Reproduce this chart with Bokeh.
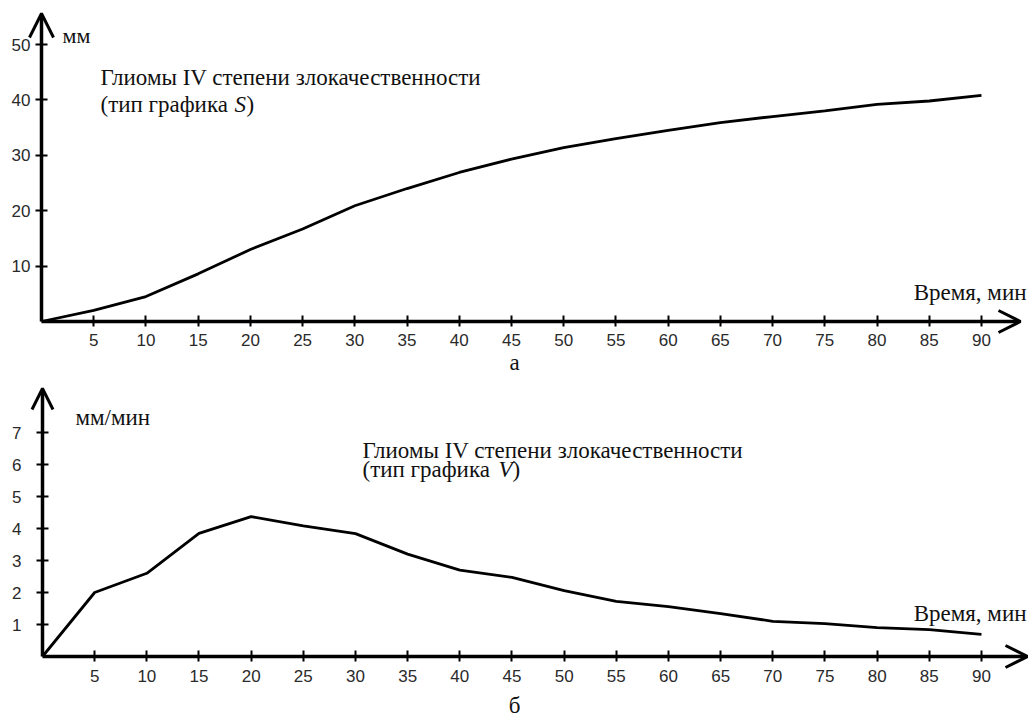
from bokeh.plotting import figure
from bokeh.models import Range1d, Arrow, OpenHead, Label, FixedTicker, LinearAxis
from bokeh.embed import file_html
from bokeh.resources import INLINE

# ---- data ----
time_min = [0, 5, 10, 15, 20, 25, 30, 35, 40, 45, 50, 55, 60, 65, 70, 75, 80, 85, 90]
size_mm = [0, 2.0, 4.5, 8.6, 13.0, 16.7, 20.9, 24.0, 26.9, 29.3, 31.4, 33.0, 34.5,
           35.9, 37.0, 38.0, 39.2, 39.8, 40.8]
speed_mm_min = [0, 2.0, 2.6, 3.85, 4.37, 4.08, 3.84, 3.2, 2.7, 2.47, 2.06, 1.72, 1.56,
                1.34, 1.1, 1.03, 0.9, 0.84, 0.69]
x_ticks = [5, 10, 15, 20, 25, 30, 35, 40, 45, 50, 55, 60, 65, 70, 75, 80, 85, 90]
s_ticks = [10, 20, 30, 40, 50]
v_ticks = [1, 2, 3, 4, 5, 6, 7]

title_line1 = "Глиомы IV степени злокачественности"
title_line2 = "(тип графика "
x_label = "Время, мин"

SERIF = "Liberation Serif"
SANS = "Liberation Sans"
W, H = 1028, 719

# scales (px per unit) and origins on the canvas
top_ox, top_oy, top_kx, top_ky = 41, 321, 10.444, 5.54
bot_ox, bot_oy, bot_kx, bot_ky = 42, 656, 10.433, 32.0

p = figure(width=W, height=H,
           x_range=Range1d(-top_ox / top_kx, (W - top_ox) / top_kx),
           y_range=Range1d((top_oy - H) / top_ky, top_oy / top_ky),
           x_axis_location=None, y_axis_location=None,
           output_backend="svg", toolbar_location=None, min_border=0)
p.extra_x_ranges = {"xb": Range1d(-bot_ox / bot_kx, (W - bot_ox) / bot_kx)}
p.extra_y_ranges = {"v": Range1d((bot_oy - H) / bot_ky, bot_oy / bot_ky)}
p.outline_line_color = None
p.xgrid.visible = False
p.ygrid.visible = False
p.background_fill_color = "white"
p.border_fill_color = "white"


def style_axis(ax, tin, tout, standoff):
    ax.axis_line_color = None
    ax.major_tick_line_width = 2
    ax.major_tick_line_color = "black"
    ax.major_tick_in = tin
    ax.major_tick_out = tout
    ax.minor_tick_line_color = None
    ax.major_label_text_font = SANS
    ax.major_label_text_font_size = "17px"
    ax.major_label_text_color = "#2a2a2a"
    ax.major_label_standoff = standoff


top_rng = dict(x_range_name="default", y_range_name="default")
bot_rng = dict(x_range_name="xb", y_range_name="v")

ax = LinearAxis(fixed_location=0, ticker=FixedTicker(ticks=x_ticks), **top_rng)
style_axis(ax, 6, 5, 7)
p.add_layout(ax, "below")
ax = LinearAxis(fixed_location=0, ticker=FixedTicker(ticks=x_ticks), **bot_rng)
style_axis(ax, 6, 5, 8)
p.add_layout(ax, "below")
ax = LinearAxis(fixed_location=0, ticker=FixedTicker(ticks=s_ticks), **top_rng)
style_axis(ax, 6, 6, 5)
p.add_layout(ax, "left")
ax = LinearAxis(fixed_location=0, ticker=FixedTicker(ticks=v_ticks), **bot_rng)
style_axis(ax, 6, 6, 15)
p.add_layout(ax, "left")

# curves
p.line(time_min, size_mm, line_width=2.8, line_color="black", **top_rng)
p.line(time_min, speed_mm_min, line_width=2.8, line_color="black", **bot_rng)


def add_arrow(rng, xe, ye, size):
    p.add_layout(Arrow(end=OpenHead(size=size, line_width=3, line_color="black"),
                       x_start=0, y_start=0, x_end=xe, y_end=ye,
                       line_width=3.5, line_color="black", **rng))


add_arrow(top_rng, (1020 - top_ox) / top_kx, 0, 22)
add_arrow(top_rng, 0, (top_oy - 13) / top_ky, 24)
add_arrow(bot_rng, (1027 - bot_ox) / bot_kx, 0, 22)
add_arrow(bot_rng, 0, (bot_oy - 388) / bot_ky, 21)


def add_text(rng, x, y, text, size, align="left", style="normal",
             baseline="alphabetic", x_offset=0):
    p.add_layout(Label(x=x, y=y, text=text, text_font=SERIF, text_font_size=size,
                       text_align=align, text_baseline=baseline, text_font_style=style,
                       text_color="#111111", x_offset=x_offset, **rng))


def tx(px):
    return (px - top_ox) / top_kx


def ty(py):
    return (top_oy - py) / top_ky


def bx(px):
    return (px - bot_ox) / bot_kx


def by(py):
    return (bot_oy - py) / bot_ky


# top panel texts
add_text(top_rng, tx(62), ty(35), "мм", "22px")
add_text(top_rng, tx(100), ty(77), title_line1, "23px")
add_text(top_rng, tx(100), ty(104), title_line2, "23px")
add_text(top_rng, tx(100), ty(104), "S", "23px", style="italic", x_offset=134)
add_text(top_rng, tx(100), ty(104), ")", "23px", x_offset=146)
add_text(top_rng, tx(1026), ty(292), x_label, "23px", align="right")
add_text(top_rng, tx(514), ty(362), "а", "23px", align="center", baseline="middle")

# bottom panel texts
add_text(bot_rng, bx(75), by(417), "мм/мин", "23px")
add_text(bot_rng, bx(362), by(450), title_line1, "23px")
add_text(bot_rng, bx(362), by(469), title_line2, "23px")
add_text(bot_rng, bx(362), by(469), "V", "23px", style="italic", x_offset=136)
add_text(bot_rng, bx(362), by(469), ")", "23px", x_offset=150)
add_text(bot_rng, bx(1026), by(613), x_label, "23px", align="right")
add_text(bot_rng, bx(514), by(705), "б", "23px", align="center", baseline="middle")

open("out.html", "w").write(file_html(p, INLINE))
